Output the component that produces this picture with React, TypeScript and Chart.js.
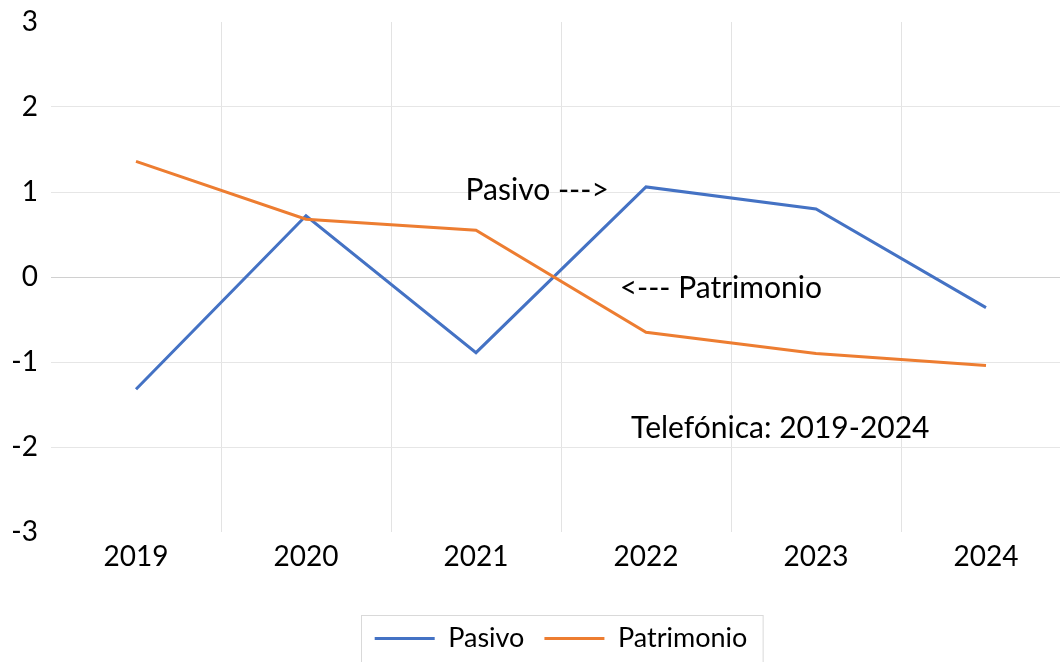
import React, { useEffect, useRef } from 'react';
import { Chart, registerables } from 'chart.js';

Chart.register(...registerables);

const years = ['2019', '2020', '2021', '2022', '2023', '2024'];
const pasivo = [-1.32, 0.72, -0.89, 1.06, 0.8, -0.36];
const patrimonio = [1.36, 0.68, 0.55, -0.65, -0.9, -1.04];
const yMin = -3;
const yMax = 3;
const notes = [
  { text: 'Pasivo --->', x: 2.36, y: 1.02 },
  { text: '<--- Patrimonio', x: 3.44, y: -0.13 },
  { text: 'Telefónica: 2019-2024', x: 3.79, y: -1.78 },
];

const FONT = 'Lato';
const AXIS_SIZE = 28;
const NOTE_SIZE = 30;
const LEGEND_SIZE = 27;

const notesPlugin = {
  id: 'notesPlugin',
  afterDatasetsDraw(chart: any) {
    const { ctx, scales } = chart;
    const x = scales.x;
    const y = scales.y;
    ctx.save();
    ctx.font = `${NOTE_SIZE}px ${FONT}`;
    ctx.fillStyle = '#000';
    ctx.textAlign = 'center';
    ctx.textBaseline = 'middle';
    notes.forEach((n) => {
      ctx.fillText(n.text, x.getPixelForValue(n.x), y.getPixelForValue(n.y));
    });
    ctx.restore();
  },
  afterDraw(chart: any) {
    const lg = chart.legend;
    if (!lg || !lg.legendHitBoxes || !lg.legendHitBoxes.length) return;
    const hb = lg.legendHitBoxes;
    const first = hb[0];
    const last = hb[hb.length - 1];
    const { ctx } = chart;
    ctx.save();
    ctx.strokeStyle = '#d9d9d9';
    ctx.lineWidth = 1;
    const left = first.left - 14;
    const right = last.left + last.width + 15;
    const top = first.top - 10;
    ctx.strokeRect(Math.round(left) + 0.5, Math.round(top) + 0.5, right - left, chart.height - top + 10);
    ctx.restore();
  },
};

export default function App() {
  const ref = useRef<HTMLCanvasElement | null>(null);

  useEffect(() => {
    if (!ref.current) return;
    const chart = new Chart(ref.current, {
      type: 'line',
      data: {
        labels: years,
        datasets: [
          {
            label: 'Pasivo',
            data: pasivo,
            borderColor: '#4472C4',
            backgroundColor: '#4472C4',
            borderWidth: 3,
            pointRadius: 0,
            tension: 0,
            order: 1,
          },
          {
            label: 'Patrimonio',
            data: patrimonio,
            borderColor: '#ED7D31',
            backgroundColor: '#ED7D31',
            borderWidth: 3,
            pointRadius: 0,
            tension: 0,
            order: 0,
          },
        ],
      },
      options: {
        responsive: false,
        animation: false,
        layout: { padding: { top: 22, right: 48, left: 0, bottom: 0 } },
        scales: {
          x: {
            offset: true,
            grid: {
              offset: true,
              drawTicks: false,
              color: (c: any) => (c.index === 0 ? 'rgba(0,0,0,0)' : '#e3e3e3'),
              lineWidth: 1,
            },
            border: { display: false },
            ticks: {
              color: '#000',
              font: { family: FONT, size: AXIS_SIZE },
              padding: 8,
              maxRotation: 0,
            },
            afterFit: (s: any) => {
              s.height = 73;
            },
          },
          y: {
            min: yMin,
            max: yMax,
            grid: {
              drawTicks: false,
              color: (c: any) => {
                const v = c.tick && c.tick.value;
                if (v === yMin || v === yMax) return 'rgba(0,0,0,0)';
                if (v === 0) return '#d0d0d0';
                return '#e6e6e6';
              },
              lineWidth: 1,
            },
            border: { display: false },
            ticks: {
              stepSize: 1,
              color: '#000',
              font: { family: FONT, size: AXIS_SIZE },
              padding: 13,
            },
            afterFit: (s: any) => {
              s.width = 51;
              s.paddingTop = 0;
              s.paddingBottom = 0;
            },
          },
        },
        plugins: {
          title: { display: false },
          tooltip: { enabled: false },
          legend: {
            display: true,
            position: 'bottom',
            fullSize: false,
            labels: {
              color: '#000',
              font: { family: FONT, size: LEGEND_SIZE },
              boxWidth: 60,
              boxHeight: 3,
              padding: 20,
              sort: (a: any, b: any) => a.datasetIndex - b.datasetIndex,
              generateLabels: (ch: any) =>
                (Chart.defaults.plugins.legend.labels.generateLabels as any)(ch).map((l: any) => ({
                  ...l,
                  fillStyle: l.strokeStyle,
                  lineWidth: 0,
                })),
            },
          },
        },
      },
      plugins: [notesPlugin],
    });
    return () => chart.destroy();
  }, []);

  return (
    <div
      style={{
        position: 'fixed',
        left: 0,
        top: 0,
        width: 1060,
        height: 663,
        overflow: 'hidden',
        background: '#fff',
      }}
    >
      <canvas ref={ref} width={1119} height={662} style={{ display: 'block' }} />
    </div>
  );
}
